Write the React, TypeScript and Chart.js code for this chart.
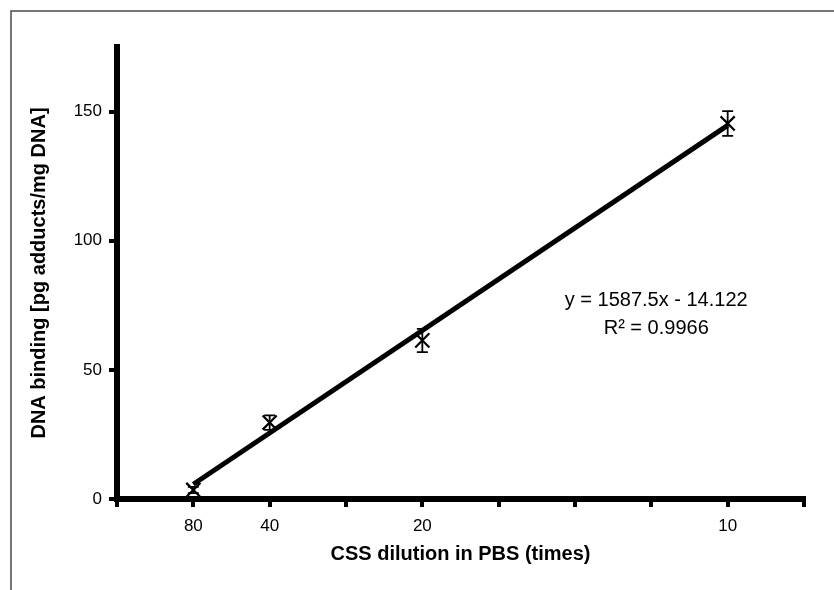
import React, { useEffect, useRef } from "react";
import { Chart, registerables } from "chart.js";

Chart.register(...registerables);

// ---- data ----
const DILUTIONS = [80, 40, 20, 10];
const BINDING = [3.5, 29.6, 61.4, 145.4];
const ERRORS = [1.2, 2.8, 4.5, 4.8];
const SLOPE = 1587.5;
const INTERCEPT = -14.122;
const EQUATION = "y = 1587.5x - 14.122";
const R2_TEXT = "R² = 0.9966";
const X_TICK_VALUES = [0, 0.0125, 0.025, 0.0375, 0.05, 0.0625, 0.075, 0.0875, 0.1, 0.1125];
const X_TICK_LABELS = ["", "80", "40", "", "20", "", "", "", "10", ""];
const Y_TICK_VALUES = [0, 50, 100, 150];
const X_TITLE = "CSS dilution in PBS (times)";
const Y_TITLE = "DNA binding [pg adducts/mg DNA]";

const FONT = "'Liberation Sans', Arial, sans-serif";

export default function App() {
  const ref = useRef<HTMLCanvasElement | null>(null);

  useEffect(() => {
    if (!ref.current) return;
    const xs = DILUTIONS.map((d) => 1 / d);
    const points = xs.map((x, i) => ({ x, y: BINDING[i] }));
    const xMin = Math.min(...xs);
    const xMax = Math.max(...xs);
    const trend = [
      { x: xMin, y: SLOPE * xMin + INTERCEPT },
      { x: xMax, y: SLOPE * xMax + INTERCEPT },
    ];

    const framePlugin = {
      id: "frame",
      beforeDraw(chart: any) {
        const ctx = chart.ctx;
        ctx.save();
        ctx.fillStyle = "#fff";
        ctx.fillRect(0, 0, chart.width, chart.height);
        ctx.strokeStyle = "#4a4a4a";
        ctx.lineWidth = 1.5;
        ctx.beginPath();
        ctx.moveTo(11, chart.height);
        ctx.lineTo(11, 11);
        ctx.lineTo(chart.width, 11);
        ctx.stroke();
        ctx.restore();
      },
    };

    const errorPlugin = {
      id: "errorbars",
      afterDatasetsDraw(chart: any) {
        const ctx = chart.ctx;
        const xS = chart.scales.x;
        const yS = chart.scales.y;
        ctx.save();
        ctx.strokeStyle = "#000";
        ctx.lineWidth = 1.8;
        points.forEach((p, i) => {
          const px = xS.getPixelForValue(p.x);
          const top = yS.getPixelForValue(p.y + ERRORS[i]);
          const bot = yS.getPixelForValue(p.y - ERRORS[i]);
          ctx.beginPath();
          ctx.moveTo(px, top);
          ctx.lineTo(px, bot);
          ctx.moveTo(px - 5.5, top);
          ctx.lineTo(px + 5.5, top);
          ctx.moveTo(px - 5.5, bot);
          ctx.lineTo(px + 5.5, bot);
          ctx.stroke();
        });
        ctx.restore();
      },
    };

    const annotationPlugin = {
      id: "eqn",
      afterDraw(chart: any) {
        const ctx = chart.ctx;
        const xS = chart.scales.x;
        const yS = chart.scales.y;
        const cx = xS.getPixelForValue(0.0883);
        const cy = yS.getPixelForValue(76.7);
        ctx.save();
        ctx.fillStyle = "#000";
        ctx.font = `20px ${FONT}`;
        ctx.textAlign = "center";
        ctx.textBaseline = "middle";
        ctx.fillText(EQUATION, cx, cy);
        ctx.fillText(R2_TEXT, cx, cy + 28);
        ctx.restore();
      },
    };

    const chart = new Chart(ref.current, {
      type: "scatter",
      data: {
        datasets: [
          {
            type: "line",
            label: "trend",
            data: trend,
            borderColor: "#000",
            borderWidth: 5,
            pointRadius: 0,
            fill: false,
          } as any,
          {
            label: "DNA binding",
            data: points,
            pointStyle: "crossRot",
            pointRadius: 10,
            pointBorderWidth: 2.2,
            borderColor: "#000",
            backgroundColor: "#000",
          },
        ],
      },
      options: {
        animation: false,
        responsive: false,
        devicePixelRatio: 1,
        layout: { padding: { top: 47, right: 30, left: 0, bottom: 0 } },
        plugins: {
          legend: { display: false },
          tooltip: { enabled: false },
        },
        scales: {
          x: {
            type: "linear",
            min: 0,
            max: 0.1125,
            afterFit(scale: any) {
              scale.height = 91;
            },
            afterBuildTicks(scale: any) {
              scale.ticks = X_TICK_VALUES.map((v) => ({ value: v }));
            },
            ticks: {
              autoSkip: false,
              maxRotation: 0,
              padding: 9,
              color: "#000",
              font: { family: FONT, size: 17 },
              callback: (_v: any, i: number) => X_TICK_LABELS[i],
            },
            grid: {
              drawOnChartArea: false,
              drawTicks: true,
              tickLength: 8,
              tickWidth: 4,
              tickColor: "#000",
              lineWidth: 4,
              color: "#000",
            },
            border: { display: true, color: "#000", width: 6 },
            title: {
              display: true,
              text: X_TITLE,
              color: "#000",
              font: { family: FONT, size: 20, weight: "bold" },
              padding: { top: 0, bottom: 24 },
            },
          },
          y: {
            type: "linear",
            min: 0,
            max: 175,
            afterFit(scale: any) {
              scale.width = 117;
            },
            afterBuildTicks(scale: any) {
              scale.ticks = Y_TICK_VALUES.map((v) => ({ value: v }));
            },
            ticks: {
              padding: 7,
              color: "#000",
              font: { family: FONT, size: 17 },
            },
            grid: {
              drawOnChartArea: false,
              drawTicks: true,
              tickLength: 8,
              tickWidth: 4,
              tickColor: "#000",
              lineWidth: 4,
              color: "#000",
            },
            border: { display: true, color: "#000", width: 6 },
            title: {
              display: true,
              text: Y_TITLE,
              color: "#000",
              font: { family: FONT, size: 20, weight: "bold" },
              padding: { top: 27, bottom: 0 },
            },
          },
        },
      },
      plugins: [framePlugin, errorPlugin, annotationPlugin],
    } as any);

    return () => chart.destroy();
  }, []);

  return (
    <div style={{ position: "absolute", left: 0, top: 0, width: 834, height: 590, background: "#fff" }}>
      <canvas ref={ref} width={834} height={590} style={{ display: "block" }} />
    </div>
  );
}
